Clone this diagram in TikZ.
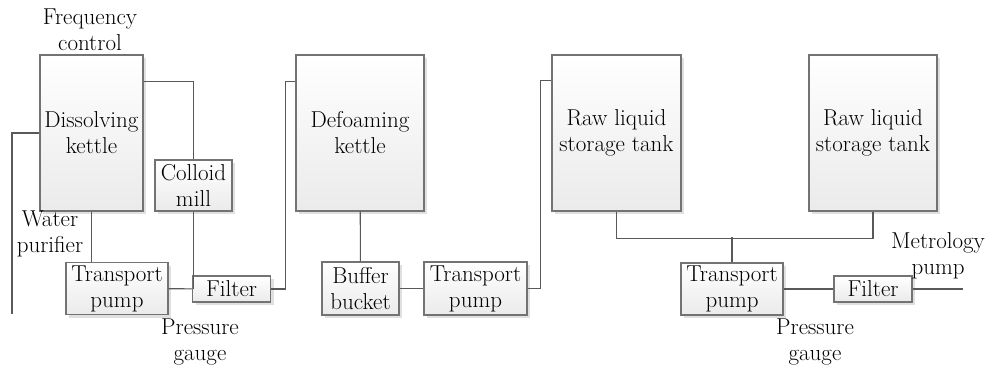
\documentclass[tikz,border=0pt]{standalone}
\usetikzlibrary{shadows}
\begin{document}
\begin{tikzpicture}[x=1pt,y=-1pt,
        font=\fontsize{23}{26}\selectfont,
        pipe/.style={draw=black!65,line width=1.1pt}]
                \useasboundingbox (0,0) rectangle (987,367);
                \begin{scope}[every node/.style={draw=black!55,line width=1.1pt,
                            top color=white,bottom color=black!8,align=center,
                            inner sep=1pt,
                            drop shadow={shadow xshift=3pt,shadow yshift=-3pt,fill=black!12,opacity=1}}]
                    \node[minimum width=103pt,minimum height=156pt] (dk) at (91.5,133) {Dissolving\\kettle};
                    \node[minimum width=77pt,minimum height=51pt] (cm) at (193.5,185.5) {Colloid\\mill};
                    \node[minimum width=102pt,minimum height=52pt] (tpa) at (117,288.5) {Transport\\pump};
                    \node[minimum width=78pt,minimum height=26pt] (fa) at (231.5,289) {Filter};
                    \node[minimum width=128pt,minimum height=156pt] (fk) at (360,133) {Defoaming\\kettle};
                    \node[minimum width=77pt,minimum height=53pt] (bb) at (360.5,288.5) {Buffer\\bucket};
                    \node[minimum width=103pt,minimum height=53pt] (tpb) at (475.5,288.5) {Transport\\pump};
                    \node[minimum width=129pt,minimum height=156pt] (rta) at (616.5,133) {Raw liquid\\storage tank};
                    \node[minimum width=128pt,minimum height=156pt] (rtb) at (873,133) {Raw liquid\\storage tank};
                    \node[minimum width=102pt,minimum height=52pt] (tpc) at (732,289) {Transport\\pump};
                    \node[minimum width=78pt,minimum height=26pt] (fb) at (873,289) {Filter};
                \end{scope}

                \begin{scope}[every node/.style={align=center,inner sep=0pt}]
                    \node (fc) at (90,30) {Frequency\\control};
                    \node (wp) at (50,234) {Water\\purifier};
                    \node (pga) at (200,342) {Pressure\\gauge};
                    \node (pgb) at (815,342) {Pressure\\gauge};
                    \node (mp) at (938,256) {Metrology\\pump};
                \end{scope}

                \coordinate (win) at (12,314);
                \coordinate (out) at (963,289);

                \begin{scope}[every path/.style={pipe}]
                    \draw (win) |- (dk.west);
                    \draw ([yshift=-27pt]dk.north east) -| (cm.north);
                    \draw (dk.south) -- (dk.south |- tpa.north);
                    \draw (cm.south) -- (cm.south |- fa.west);
                    \path [-] (tpa) edge (fa);
                    \draw (fa.east) -- ([xshift=-10pt]fk.west |- fa.east) |- ([yshift=-27pt]fk.north west);
                    \path [-] (fk) edge (bb);
                    \path [-] (bb) edge (tpb);
                    \draw (tpb.east) -- ([xshift=-11pt]rta.west |- tpb.east) |- ([yshift=-26pt]rta.north west);
                    \draw (rta.south) -- ++(0,27) -| (rtb.south);
                    \draw (tpc.north) -- ++(0,-25);
                    \path [-] (tpc) edge (fb);
                    \draw (fb.east) -- (out);
                \end{scope}
            \end{tikzpicture}
\end{document}
